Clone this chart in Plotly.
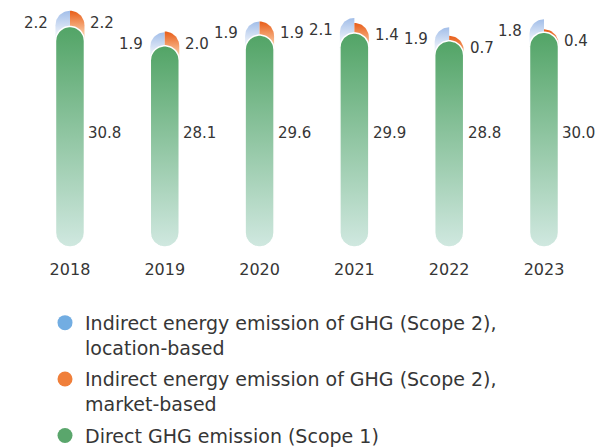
import numpy as np
import plotly.graph_objects as go

# --- data ---
years = ["2018", "2019", "2020", "2021", "2022", "2023"]
scope1 = [30.8, 28.1, 29.6, 29.9, 28.8, 30.0]
scope2_location = [2.2, 1.9, 1.9, 2.1, 1.9, 1.8]
scope2_market = [2.2, 2.0, 1.9, 1.4, 0.7, 0.4]

# --- layout constants (pixels) ---
W, H = 595, 448
MARGIN_B = 201
PLOT_H = H - MARGIN_B
Y_MAX = 34.5
X_RANGE = [-0.738, 5.538]
PX_X = W / (X_RANGE[1] - X_RANGE[0])
PX_Y = PLOT_H / Y_MAX
HALF_W = 14.5 / PX_X   # half bar width in x units
RAD_Y = 14.5 / PX_Y    # cap radius in y units

FONT = "DejaVu Sans"
TEXT = "#363636"


def pill(xc, h, n=24):
    t_top = np.linspace(np.pi, 0, n)
    t_bot = np.linspace(0, -np.pi, n)
    xs = list(xc + HALF_W * np.cos(t_top)) + list(xc + HALF_W * np.cos(t_bot))
    ys = list(h - RAD_Y + RAD_Y * np.sin(t_top)) + list(RAD_Y + RAD_Y * np.sin(t_bot))
    return xs + [xs[0]], ys + [ys[0]]


def half_cap(xc, h, side, n=16):
    # only the top matters, the bottom is hidden behind the green pill
    base = RAD_Y * 2
    if side == "left":
        t = np.linspace(np.pi, np.pi / 2, n)
        xs = [xc, xc - HALF_W] + list(xc + HALF_W * np.cos(t)) + [xc]
        ys = [base, base] + list(h - RAD_Y + RAD_Y * np.sin(t)) + [base]
    else:
        t = np.linspace(np.pi / 2, 0, n)
        xs = [xc, xc] + list(xc + HALF_W * np.cos(t)) + [xc + HALF_W, xc]
        ys = [base, h] + list(h - RAD_Y + RAD_Y * np.sin(t)) + [base, base]
    return xs, ys


fig = go.Figure()
annotations = []

for i, yr in enumerate(years):
    s1 = scope1[i]
    loc_top = s1 + scope2_location[i]
    mkt_top = s1 + scope2_market[i]

    # scope 2 caps (behind the green pill)
    xs, ys = half_cap(i, loc_top, "left")
    fig.add_trace(go.Scatter(
        x=xs, y=ys, mode="lines", fill="toself", line=dict(width=0),
        fillgradient=dict(type="vertical", colorscale=[[0, "#e6edf8"], [1, "#a2bee9"]],
                          start=s1 - 0.8, stop=loc_top),
        hoverinfo="skip", showlegend=False))
    xs, ys = half_cap(i, mkt_top, "right")
    fig.add_trace(go.Scatter(
        x=xs, y=ys, mode="lines", fill="toself", line=dict(width=0),
        fillgradient=dict(type="vertical", colorscale=[[0, "#fac39a"], [1, "#e85d18"]],
                          start=mkt_top - 3, stop=mkt_top),
        hoverinfo="skip", showlegend=False))

    # scope 1 pill
    xs, ys = pill(i, s1)
    fig.add_trace(go.Scatter(
        x=xs, y=ys, mode="lines", fill="toself", line=dict(width=1.5, color="white"),
        fillgradient=dict(type="vertical", colorscale=[[0, "#d0e8e0"], [1, "#52a466"]]),
        hoverinfo="skip", showlegend=False))

    # value labels
    annotations.append(dict(x=i - HALF_W, y=loc_top, text=f"{scope2_location[i]:.1f}",
                            xanchor="right", yanchor="middle", xshift=-5, yshift=-12))
    annotations.append(dict(x=i + HALF_W, y=mkt_top, text=f"{scope2_market[i]:.1f}",
                            xanchor="left", yanchor="middle", xshift=4, yshift=-12))
    annotations.append(dict(x=i + HALF_W, y=15.9, text=f"{s1:.1f}",
                            xanchor="left", yanchor="middle", xshift=2))

for a in annotations:
    a.update(xref="x", yref="y", showarrow=False, font=dict(family=FONT, size=15, color=TEXT))

# legend entries
legend_items = [
    ("Indirect energy emission of GHG (Scope 2),<br>location-based", "#72ade2"),
    ("Indirect energy emission of GHG (Scope 2),<br>market-based", "#f07f3a"),
    ("Direct GHG emission (Scope 1)", "#5aa66c"),
]
for k, (name, color) in enumerate(legend_items):
    fig.add_trace(go.Scatter(
        x=[None], y=[None], mode="markers", name=name, legendgroup=f"g{k}",
        marker=dict(size=15, color=color)))

fig.update_layout(
    width=W, height=H,
    margin=dict(l=0, r=0, t=0, b=MARGIN_B, autoexpand=False),
    paper_bgcolor="white", plot_bgcolor="white",
    annotations=annotations,
    xaxis=dict(range=X_RANGE, tickvals=list(range(len(years))), ticktext=years,
               showgrid=False, zeroline=False, showline=False,
               ticks="outside", ticklen=8, tickcolor="rgba(0,0,0,0)",
               tickfont=dict(family=FONT, size=16, color=TEXT)),
    yaxis=dict(range=[0, Y_MAX], visible=False),
    showlegend=True,
    legend=dict(x=45 / W, xanchor="left", y=-0.23, yanchor="top",
                traceorder="grouped", tracegroupgap=4, valign="top",
                font=dict(family=FONT, size=19, color=TEXT),
                bgcolor="rgba(0,0,0,0)"),
)

fig.write_html("out.html", config={"displayModeBar": False},
               post_script="document.body.style.margin='0';")
